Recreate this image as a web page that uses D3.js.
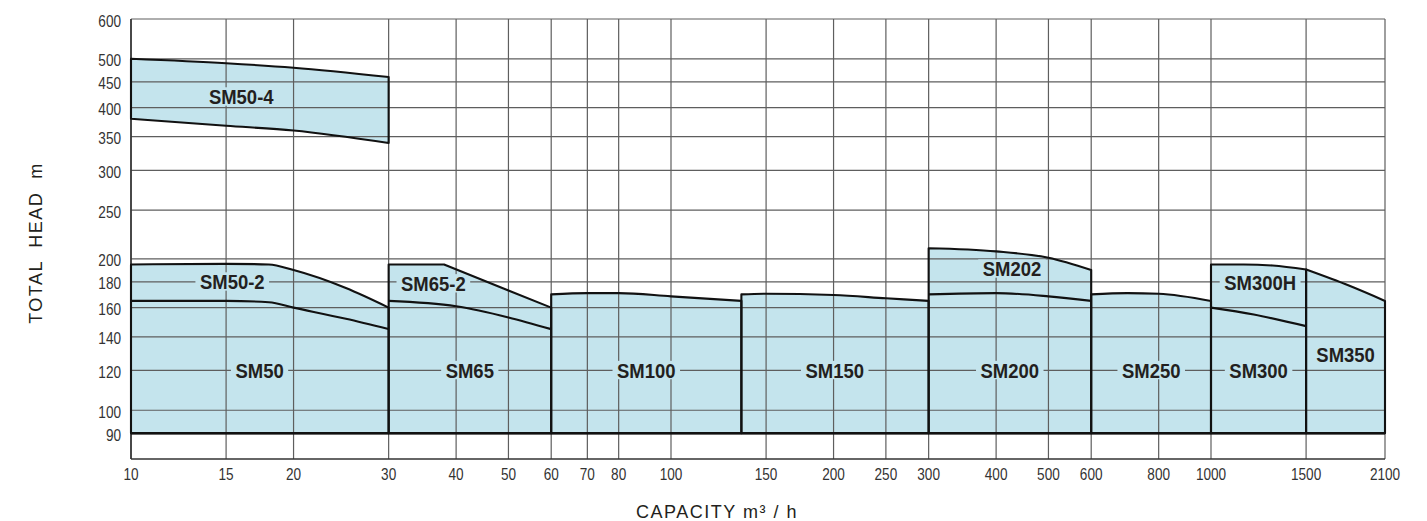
<!DOCTYPE html>
<html>
<head>
<meta charset="utf-8">
<script src="https://cdn.jsdelivr.net/npm/d3@7"></script>
<style>
  html, body { margin: 0; padding: 0; background: #fff; }
  svg { display: block; }
  .tick-label { font-family: "Liberation Sans", Arial, sans-serif; font-size: 17px; fill: #333; }
  .model-label { font-family: "Liberation Sans", Arial, sans-serif; font-weight: bold; font-size: 21px; fill: #231f20; }
  .axis-title { font-family: "Liberation Sans", Arial, sans-serif; font-size: 18px; fill: #231f20; letter-spacing: 1.5px; white-space: pre; }
</style>
</head>
<body>
<svg id="chart" width="1427" height="521"></svg>
<script>
// ---------- DATA ----------
const xTicks = [10, 15, 20, 30, 40, 50, 60, 70, 80, 100, 150, 200, 250, 300, 400, 500, 600, 800, 1000, 1500, 2100];
const yTicks = [90, 100, 120, 140, 160, 180, 200, 250, 300, 350, 400, 450, 500, 600];
const baseHead = 90;

// curves: [capacity m3/h, head m]
const sm50_4Upper = [[10, 500], [15, 490], [20, 480], [30, 460]];
const sm50_4Lower = [[10, 380], [15, 368], [20, 360], [30, 340]];
const sm50 = [[10, 165], [15, 165], [18, 164], [20, 160], [25, 152], [30, 145]];
const sm50_2 = [[10, 195], [15, 195.5], [18, 195], [20, 190], [25, 175], [30, 160]];
const sm65 = [[30, 165], [40, 161], [50, 153], [60, 145]];
const sm65_2 = [[30, 195], [38, 195], [50, 173], [60, 160]];
const sm100 = [[60, 170], [70, 171], [80, 171], [100, 168.5], [135, 165]];
const sm150 = [[135, 170], [150, 170.5], [200, 169.5], [250, 167], [300, 165]];
const sm200 = [[300, 170], [400, 171], [500, 168.5], [600, 165]];
const sm202 = [[300, 210], [400, 207], [500, 201], [600, 190]];
const sm250 = [[600, 170], [700, 171], [800, 170.5], [1000, 165]];
const sm300 = [[1000, 160], [1200, 155], [1500, 147]];
const sm300H = [[1000, 195], [1150, 195], [1300, 194], [1500, 190.5]];
const sm350 = [[1500, 190.5], [1800, 177], [2100, 165]];

// outer envelopes (top curve of each capacity range) and inner dividing curves
const envelopes = [sm50_2, sm65_2, sm100, sm150, sm202, sm250, sm300H, sm350];
const envelopeLinear = [false, true, false, false, false, false, false, false];
const innerCurves = [sm50, sm65, sm200, sm300];

// labels: name, anchor capacity, anchor head
const labelNames = ["SM50-4", "SM50-2", "SM50", "SM65-2", "SM65", "SM100", "SM150", "SM202", "SM200", "SM250", "SM300H", "SM300", "SM350"];
const labelQ = [16, 15.4, 17.3, 36.3, 42.4, 90, 201, 428, 424, 775, 1233, 1225, 1775];
const labelH = [420, 180, 120, 178.5, 120, 120, 120, 191, 120, 120, 179.5, 120, 129];

// ---------- CHART ----------
const svg = d3.select("#chart");
const x = d3.scaleLog().domain([10, 2100]).range([131, 1385]);
const y = d3.scaleLog().domain([80, 600]).range([459, 19]);

const fillColor = "#c4e4ed";
const gridColor = "#5e5e5e";
const condTick = 0.8;
const condLabel = 0.88;

const smooth = d3.line().x(d => x(d[0])).y(d => y(d[1])).curve(d3.curveMonotoneX);
const straight = d3.line().x(d => x(d[0])).y(d => y(d[1])).curve(d3.curveLinear);

function envelopePath(curve, linear) {
  const first = curve[0], last = curve[curve.length - 1];
  const top = (linear ? straight : smooth)(curve);
  return `M${x(first[0])},${y(baseHead)}L` + top.slice(1) +
         `L${x(last[0])},${y(baseHead)}Z`;
}
function bandPath(upper, lower) {
  const up = smooth(upper);
  const lowRev = smooth(lower.slice().reverse());
  return up + "L" + lowRev.slice(1) + "Z";
}

// fills
const gFill = svg.append("g");
envelopes.forEach((c, i) => {
  gFill.append("path").attr("d", envelopePath(c, envelopeLinear[i])).attr("fill", fillColor);
});
gFill.append("path").attr("d", bandPath(sm50_4Upper, sm50_4Lower)).attr("fill", fillColor);

// grid
const gGrid = svg.append("g").attr("stroke", gridColor).attr("stroke-width", 1.2);
xTicks.forEach(t => {
  gGrid.append("line").attr("x1", x(t)).attr("x2", x(t)).attr("y1", y.range()[1]).attr("y2", y.range()[0]);
});
yTicks.forEach(t => {
  gGrid.append("line").attr("x1", x.range()[0]).attr("x2", x.range()[1]).attr("y1", y(t)).attr("y2", y(t));
});
// axis lines
svg.append("line").attr("x1", x.range()[0]).attr("x2", x.range()[0]).attr("y1", y.range()[1]).attr("y2", y.range()[0])
  .attr("stroke", "#333").attr("stroke-width", 1.6);
svg.append("line").attr("x1", x.range()[0]).attr("x2", x.range()[1]).attr("y1", y.range()[0]).attr("y2", y.range()[0])
  .attr("stroke", "#333").attr("stroke-width", 1.6);

// model labels (with background that interrupts grid lines)
const gLab = svg.append("g");
labelNames.forEach((name, i) => {
  const g = gLab.append("g")
    .attr("transform", `translate(${x(labelQ[i])},${y(labelH[i]) + 7.5}) scale(${condLabel},1)`);
  const rect = g.append("rect").attr("fill", fillColor);
  const txt = g.append("text").attr("class", "model-label")
    .attr("x", 0).attr("y", 0).attr("text-anchor", "middle").text(name);
  const bb = txt.node().getBBox();
  const padX = 4.5 / condLabel;
  rect.attr("x", bb.x - padX).attr("width", bb.width + 2 * padX)
      .attr("y", bb.y + 2).attr("height", bb.height - 5);
});

// outlines
const gOut = svg.append("g").attr("fill", "none").attr("stroke", "#111").attr("stroke-width", 2.1).attr("stroke-linejoin", "round");
envelopes.forEach((c, i) => {
  gOut.append("path").attr("d", envelopePath(c, envelopeLinear[i]));
});
innerCurves.forEach(c => gOut.append("path").attr("d", smooth(c)));
gOut.append("path").attr("d", bandPath(sm50_4Upper, sm50_4Lower));
gOut.append("line").attr("x1", x(10)).attr("x2", x(2100)).attr("y1", y(baseHead)).attr("y2", y(baseHead)).attr("stroke-width", 2.6);

// tick labels
const gTicks = svg.append("g");
xTicks.forEach(t => {
  gTicks.append("text").attr("class", "tick-label")
    .attr("transform", `translate(${x(t)},479.5) scale(${condTick},1)`)
    .attr("text-anchor", "middle").text(t);
});
yTicks.forEach(t => {
  gTicks.append("text").attr("class", "tick-label")
    .attr("transform", `translate(121,${y(t) + 7.5}) scale(${condTick},1)`)
    .attr("text-anchor", "end").text(t);
});

// axis titles
svg.append("text").attr("class", "axis-title")
  .attr("transform", `translate(42,${243}) rotate(-90)`)
  .attr("text-anchor", "middle").text("TOTAL  HEAD  m");
svg.append("text").attr("class", "axis-title")
  .attr("x", 717).attr("y", 518).attr("text-anchor", "middle").text("CAPACITY m³ / h");
</script>
</body>
</html>
